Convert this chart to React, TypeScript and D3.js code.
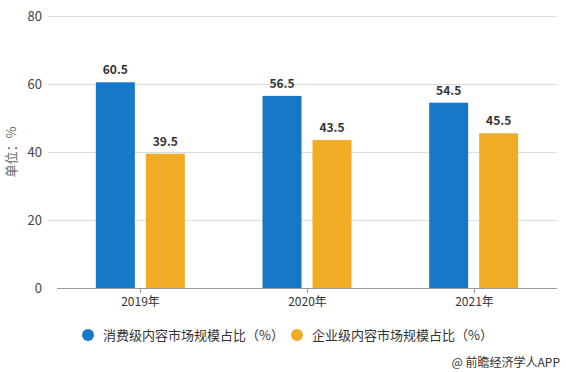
import { useRef, useEffect } from 'react'
import * as d3 from 'd3'

const years = ['2019年', '2020年', '2021年']
const consumer = [60.5, 56.5, 54.5]
const enterprise = [39.5, 43.5, 45.5]
const seriesNames = ['消费级内容市场规模占比（%）', '企业级内容市场规模占比（%）']
const colors = ['#1878c8', '#efac24']
const yTicks = [0, 20, 40, 60, 80]

const font = '"Microsoft YaHei", "Noto Sans CJK SC", sans-serif'

export default function App() {
  const svgRef = useRef<SVGSVGElement>(null)

  useEffect(() => {
    if (!svgRef.current) return
    const svg = d3.select(svgRef.current)
    svg.selectAll('*').remove()

    const width = 566
    const height = 372
    const left = 57
    const right = 557
    const top = 16
    const bottom = 288

    svg.attr('width', width).attr('height', height)
    svg.append('rect').attr('width', width).attr('height', height).attr('fill', '#fff')

    const x = d3.scaleBand().domain(years).range([left, right])
    const y = d3.scaleLinear().domain([0, 80]).range([bottom, top])

    // Grid lines
    svg.selectAll('.grid')
      .data(yTicks.filter((d) => d > 0))
      .enter()
      .append('line')
      .attr('x1', 48)
      .attr('x2', right)
      .attr('y1', (d) => y(d) + 0.5)
      .attr('y2', (d) => y(d) + 0.5)
      .attr('stroke', '#dcdcdc')

    // Y labels
    svg.selectAll('.ylab')
      .data(yTicks)
      .enter()
      .append('text')
      .attr('x', 42)
      .attr('y', (d) => y(d) + 4.5)
      .attr('text-anchor', 'end')
      .attr('fill', '#444')
      .attr('font-size', '13px')
      .attr('font-family', font)
      .text((d) => d)

    svg.append('text')
      .attr('transform', `translate(16,${y(40)}) rotate(-90)`)
      .attr('text-anchor', 'middle')
      .attr('fill', '#666')
      .attr('font-size', '13px')
      .attr('font-family', font)
      .text('单位：%')

    // Bars
    const barW = 39
    const gap = 11
    const data = [consumer, enterprise]
    data.forEach((vals, s) => {
      vals.forEach((v, i) => {
        const cx = x(years[i])! + x.bandwidth() / 2
        const bx = s === 0 ? cx - gap / 2 - barW : cx + gap / 2
        svg.append('rect')
          .attr('x', bx)
          .attr('y', y(v))
          .attr('width', barW)
          .attr('height', bottom - y(v))
          .attr('fill', colors[s])
        svg.append('text')
          .attr('x', bx + barW / 2)
          .attr('y', y(v) - 8)
          .attr('text-anchor', 'middle')
          .attr('fill', '#333')
          .attr('font-size', '12px')
          .attr('font-weight', 'bold')
          .attr('font-family', font)
          .text(v.toFixed(1))
      })
    })

    // X axis
    svg.append('line')
      .attr('x1', left)
      .attr('x2', right)
      .attr('y1', bottom + 0.5)
      .attr('y2', bottom + 0.5)
      .attr('stroke', '#999')
    years.forEach((yr) => {
      const cx = Math.round(x(yr)! + x.bandwidth() / 2) + 0.5
      svg.append('line')
        .attr('x1', cx)
        .attr('x2', cx)
        .attr('y1', bottom)
        .attr('y2', bottom + 5)
        .attr('stroke', '#999')
      svg.append('text')
        .attr('x', cx)
        .attr('y', bottom + 18)
        .attr('text-anchor', 'middle')
        .attr('fill', '#333')
        .attr('font-size', '12px')
        .attr('font-family', font)
        .text(yr)
    })

    // Legend
    const legendX = [88, 297]
    seriesNames.forEach((name, s) => {
      svg.append('circle')
        .attr('cx', legendX[s])
        .attr('cy', 335)
        .attr('r', 6)
        .attr('fill', colors[s])
      svg.append('text')
        .attr('x', legendX[s] + 15)
        .attr('y', 340)
        .attr('fill', '#333')
        .attr('font-size', '13px')
        .attr('font-family', font)
        .text(name)
    })

    svg.append('text')
      .attr('x', 560)
      .attr('y', 367)
      .attr('text-anchor', 'end')
      .attr('fill', '#333')
      .attr('font-size', '12px')
      .attr('font-family', font)
      .text('@ 前瞻经济学人APP')
  }, [])

  return (
    <div style={{ position: 'absolute', left: 0, top: 0 }}>
      <svg ref={svgRef} style={{ display: 'block' }} />
    </div>
  )
}
